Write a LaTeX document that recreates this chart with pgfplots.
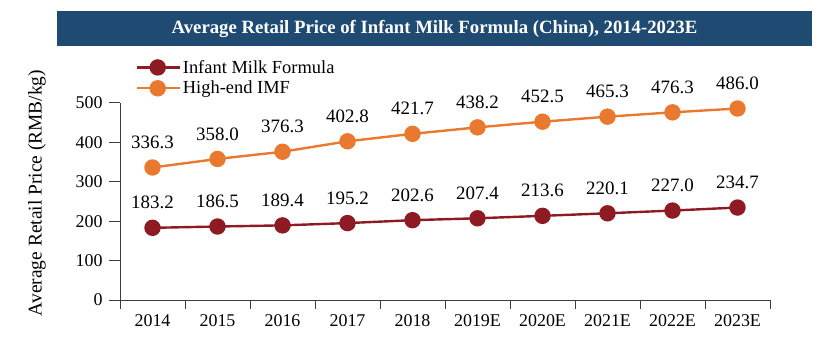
\documentclass[border=0pt]{standalone}
\usepackage{pgfplots}
\pgfplotsset{compat=1.18}
\usepackage{fontspec}
\setmainfont{Liberation Serif}
\definecolor{banner}{RGB}{31,75,115}
\definecolor{imfred}{RGB}{142,27,36}
\definecolor{imforange}{RGB}{232,121,47}
\definecolor{axgray}{RGB}{60,60,60}
\begin{document}
\begin{tikzpicture}[x=1bp,y=1bp]
\path[use as bounding box] (0,0) rectangle (831,340);
\fill[banner] (57,294) rectangle (812,329);
\node[text=white,font=\rmfamily\fontsize{18.8}{20}\selectfont\bfseries] at (434.5,311.5) {Average Retail Price of Infant Milk Formula (China), 2014-2023E};
\begin{axis}[
  at={(120bp,40bp)}, anchor=south west,
  scale only axis, width=650bp, height=197bp,
  xmin=-0.5, xmax=9.5, ymin=0, ymax=500,
  axis x line=bottom, axis y line=left,
  axis line style={axgray, line width=1bp, -},
  xtick={0,...,9},
  xticklabels={2014,2015,2016,2017,2018,2019E,2020E,2021E,2022E,2023E},
  minor xtick={-0.5,0.5,...,9.5},
  major x tick style={draw=none},
  minor x tick style={axgray, line width=1bp},
  minor tick length=9bp,
  ytick={0,100,...,500},
  y tick style={axgray, line width=1bp},
  major tick length=11bp,
  tick align=outside,
  tick label style={font=\rmfamily\fontsize{18}{20}\selectfont, text=black},
  /pgf/number format/assume math mode=true,
  yticklabel style={xshift=-3bp},
  ylabel={Average Retail Price (RMB/kg)},
  every axis y label/.style={at={(-83bp,107bp)}, rotate=90, anchor=center, font=\rmfamily\fontsize{19.5}{20}\selectfont},
  clip=false,
  nodes near coords={\pgfmathprintnumber[fixed,fixed zerofill,precision=1]{\pgfplotspointmeta}},
  every node near coord/.append style={anchor=center, yshift=25bp, font=\rmfamily\fontsize{19}{20}\selectfont, text=black},
  legend style={at={(rel axis cs:0.022,1.2335)}, anchor=north west, draw=none, fill=none,
    font=\rmfamily\fontsize{18.5}{20}\selectfont, row sep=2.5bp, inner sep=1bp},
  legend cell align=left,
  legend image code/.code={\draw[mark repeat=2,mark phase=2] plot coordinates {(0bp,0bp)(21bp,0bp)(43bp,0bp)};},
]
\addplot[imfred, line width=2.4bp, mark=*, mark size=7bp, mark options={solid}] coordinates {
(0,183.2)(1,186.5)(2,189.4)(3,195.2)(4,202.6)(5,207.4)(6,213.6)(7,220.1)(8,227.0)(9,234.7)};
\addlegendentry{Infant Milk Formula}
\addplot[imforange, line width=2.4bp, mark=*, mark size=7bp, mark options={solid}] coordinates {
(0,336.3)(1,358.0)(2,376.3)(3,402.8)(4,421.7)(5,438.2)(6,452.5)(7,465.3)(8,476.3)(9,486.0)};
\addlegendentry{High-end IMF}
\end{axis}
\end{tikzpicture}
\end{document}
